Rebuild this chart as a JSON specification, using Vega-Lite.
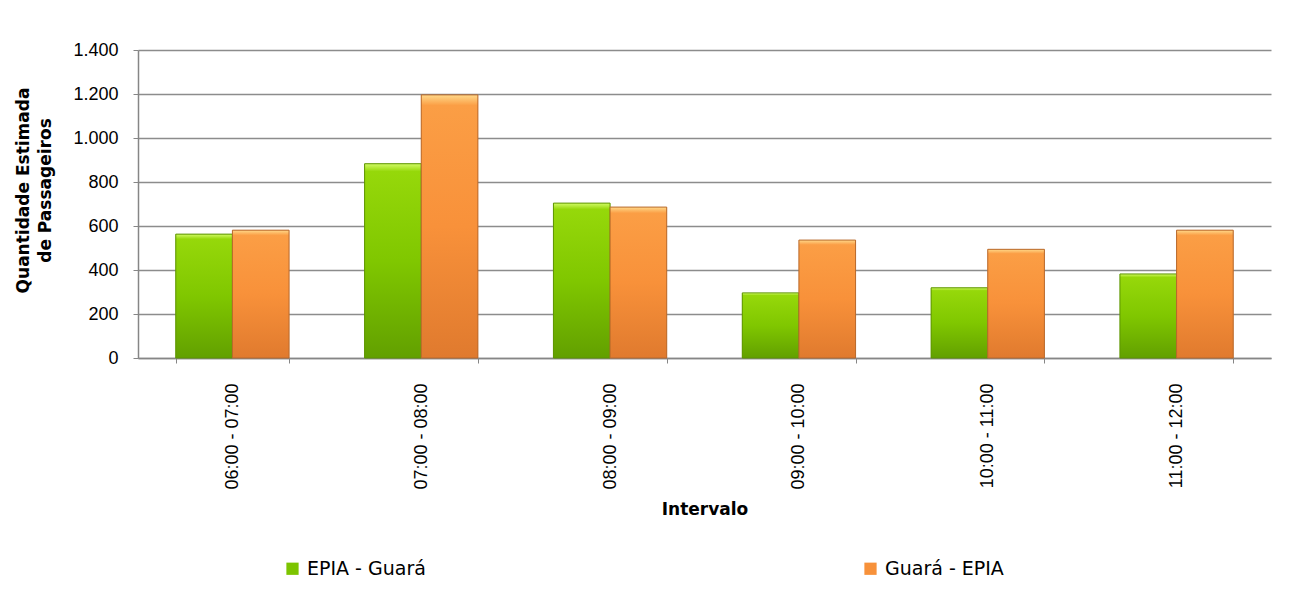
{
  "$schema": "https://vega.github.io/schema/vega-lite/v6.json",
  "autosize": {"type": "none"},
  "width": 1133,
  "height": 308,
  "padding": {"left": 138, "top": 50, "right": 38, "bottom": 234},
  "background": "white",
  "config": {
    "view": {"stroke": null},
    "font": "DejaVu Sans"
  },
  "data": {
    "values": [
      {"intervalo": "06:00 - 07:00", "sentido": "EPIA - Guará", "passageiros": 563},
      {"intervalo": "06:00 - 07:00", "sentido": "Guará - EPIA", "passageiros": 581},
      {"intervalo": "07:00 - 08:00", "sentido": "EPIA - Guará", "passageiros": 883},
      {"intervalo": "07:00 - 08:00", "sentido": "Guará - EPIA", "passageiros": 1196},
      {"intervalo": "08:00 - 09:00", "sentido": "EPIA - Guará", "passageiros": 704},
      {"intervalo": "08:00 - 09:00", "sentido": "Guará - EPIA", "passageiros": 686},
      {"intervalo": "09:00 - 10:00", "sentido": "EPIA - Guará", "passageiros": 296},
      {"intervalo": "09:00 - 10:00", "sentido": "Guará - EPIA", "passageiros": 536},
      {"intervalo": "10:00 - 11:00", "sentido": "EPIA - Guará", "passageiros": 319},
      {"intervalo": "10:00 - 11:00", "sentido": "Guará - EPIA", "passageiros": 494},
      {"intervalo": "11:00 - 12:00", "sentido": "EPIA - Guará", "passageiros": 382},
      {"intervalo": "11:00 - 12:00", "sentido": "Guará - EPIA", "passageiros": 581}
    ]
  },
  "encoding": {
    "x": {
      "field": "intervalo",
      "type": "nominal",
      "sort": null,
      "scale": {"paddingInner": 0.4, "paddingOuter": 0.2},
      "axis": {
        "title": "Intervalo",
        "titleFont": "DejaVu Sans",
        "titleFontSize": 17,
        "titleFontWeight": "bold",
        "titleColor": "#000000",
        "titlePadding": 12,
        "labelAngle": 270,
        "labelFont": "Liberation Sans",
        "labelFontSize": 18,
        "labelColor": "#000000",
        "labelPadding": 20,
        "tickBand": "extent",
        "tickSize": 5,
        "tickColor": "#868686",
        "domainColor": "#868686",
        "domainWidth": 1.5,
        "grid": false
      }
    },
    "xOffset": {"field": "sentido", "type": "nominal", "scale": {"paddingInner": 0, "paddingOuter": 0}},
    "y": {
      "field": "passageiros",
      "type": "quantitative",
      "scale": {"domain": [0, 1400], "nice": false},
      "axis": {
        "title": ["Quantidade Estimada", "de Passageiros"],
        "titleFont": "DejaVu Sans",
        "titleFontSize": 17,
        "titleFontWeight": "bold",
        "titleColor": "#000000",
        "titleLineHeight": 22,
        "titlePadding": 18,
        "titleY": 140,
        "values": [0, 200, 400, 600, 800, 1000, 1200, 1400],
        "labelExpr": "replace(format(datum.value, ','), ',', '.')",
        "labelFont": "Liberation Sans",
        "labelFontSize": 18,
        "labelColor": "#000000",
        "labelPadding": 15,
        "tickSize": 5,
        "tickColor": "#868686",
        "domainColor": "#868686",
        "domainWidth": 1.5,
        "gridColor": "#8c8c8c",
        "gridWidth": 1.5
      }
    }
  },
  "layer": [
    {
      "mark": {"type": "bar"},
      "encoding": {
        "color": {
          "field": "sentido",
          "type": "nominal",
          "scale": {"domain": ["EPIA - Guará", "Guará - EPIA"], "range": ["#7cc400", "#f7913a"]},
          "legend": {
            "title": null,
            "orient": "none",
            "direction": "horizontal",
            "legendX": 145,
            "legendY": 509,
            "symbolType": "square",
            "symbolSize": 150,
            "symbolStrokeWidth": 0,
            "labelFont": "DejaVu Sans",
            "labelFontSize": 19,
            "labelColor": "#000000",
            "labelOffset": 5,
            "columnPadding": 435
          }
        }
      }
    },
    {
      "mark": {"type": "bar", "strokeWidth": 1},
      "encoding": {
        "fill": {
          "condition": {
            "test": "datum.sentido === 'EPIA - Guará'",
            "value": {
              "gradient": "linear", "x1": 0, "y1": 0, "x2": 0, "y2": 1,
              "stops": [
                {"offset": 0, "color": "#d2fb66"},
                {"offset": 0.04, "color": "#96d80a"},
                {"offset": 0.5, "color": "#80c700"},
                {"offset": 1, "color": "#62a000"}
              ]
            }
          },
          "value": {
            "gradient": "linear", "x1": 0, "y1": 0, "x2": 0, "y2": 1,
            "stops": [
              {"offset": 0, "color": "#ffd98a"},
              {"offset": 0.04, "color": "#fb9e45"},
              {"offset": 0.5, "color": "#f8913a"},
              {"offset": 1, "color": "#e07a2e"}
            ]
          }
        },
        "stroke": {
          "condition": {"test": "datum.sentido === 'EPIA - Guará'", "value": "#5d9400"},
          "value": "#b8692c"
        }
      }
    }
  ]
}
